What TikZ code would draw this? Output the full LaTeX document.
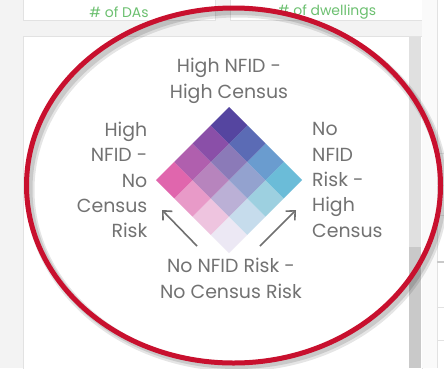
\documentclass[tikz,border=0pt]{standalone}
\usepackage{fontspec}
\setmainfont{Poppins}
\usetikzlibrary{arrows.meta}
\definecolor{bgg}{HTML}{F3F3F3}
\definecolor{bord}{HTML}{E2E2E2}
\definecolor{sbl}{HTML}{E0E0E0}
\definecolor{sbd}{HTML}{C9C9C9}
\definecolor{txt}{HTML}{727272}
\definecolor{grn}{HTML}{6CC070}
\definecolor{ring}{HTML}{C8102E}
\definecolor{arr}{HTML}{707070}
\tikzset{
  lbl/.style={text=txt, font=\fontsize{19}{25.5}\selectfont, inner sep=0pt},
  hdr/.style={text=grn, font=\fontsize{14}{15}\selectfont, inner sep=0pt},
  pointer/.style={draw=arr, line width=1.6bp, -{Straight Barb[length=7bp,width=13bp,line width=1.6bp]}},
  panel/.style={fill=white, draw=bord, line width=0.8bp},
}
\begin{document}
\begin{tikzpicture}[x=1bp,y=-1bp]
\useasboundingbox (0,0) rectangle (444,368);
\fill[bgg] (0,0) rectangle (444,368);
% top panels
\draw[panel] (23,-5) rectangle (215,20);
\draw[panel] (230,-5) rectangle (422,20);
% main panel
\draw[panel] (23,36) rectangle (422,375);
\fill[sbl] (409,36.5) rectangle (421,247);
\fill[sbd] (409,247) rectangle (421,368);
% right strip
\fill[white!60!bgg] (422,0) rectangle (437,368);
\draw[bord] (437,0) -- (437,368);
\fill[white] (437.5,0) rectangle (444,368);
\draw[bord!80!white, line width=0.6bp] (437,153) -- (444,153);
\draw[bord!80!white, line width=0.6bp] (437,215) -- (444,215);
\draw[sbd, line width=2bp] (437,262) -- (444,262);
\draw[bord, line width=0.8bp] (437,307) -- (444,307);
\draw[bord, line width=0.8bp] (437,340) -- (444,340);
% headers
\node[hdr] (h1) at (119,12) {\# of DAs};
\node[hdr] (h2) at (327,12) {\# of dwellings};
% diamond grid
\begin{scope}[shift={(229,253)}, x={(-18.25bp,18.25bp)}, y={(18.25bp,18.25bp)}]
\def\cellcolors{{"ECE8F4","C6DCEC","9DD0E0","6BBCD8","EEC4DF","BBB0D6","93A2CF","6A9CCF","E89AC8","B784BD","8B7AB8","5B6BB5","E066AD","B05FAE","8A4FA8","5545A0"}}
\foreach \a in {0,...,3}{
  \foreach \b in {0,...,3}{
    \pgfmathsetmacro{\idx}{int(4*\a+\b)}
    \pgfmathsetmacro{\hex}{\cellcolors[\idx]}
    \definecolor{cc}{HTML}{\hex}
    \fill[cc] (\a,\b) -- (\a+1,\b) -- (\a+1,\b+1) -- (\a,\b+1) -- cycle;
  }
}
\end{scope}
% labels
\node[lbl, align=center] (top) at (229,81) {High NFID -\\High Census};
\node[lbl, align=right, anchor=east] (left) at (147.5,180) {High\\NFID -\\No\\Census\\Risk};
\node[lbl, align=left, anchor=west] (right) at (312,180) {No\\NFID\\Risk -\\High\\Census};
\node[lbl, align=center] (bot) at (231,278.5) {No NFID Risk -\\No Census Risk};
% arrows
\coordinate (la1) at (197,246);
\coordinate (la2) at (162,210);
\coordinate (ra1) at (260,246);
\coordinate (ra2) at (296,210);
\draw[pointer] (la1) -- (la2);
\draw[pointer] (ra1) -- (ra2);
% red ring with shadow
\draw[black, opacity=0.12, line width=6bp] (236.5,189) ellipse [x radius=207, y radius=177];
\draw[black, opacity=0.10, line width=9bp] (237,190) ellipse [x radius=207, y radius=177];
\draw[ring, line width=5bp] (233.5,185.5) ellipse [x radius=207, y radius=177.5];
\end{tikzpicture}
\end{document}
